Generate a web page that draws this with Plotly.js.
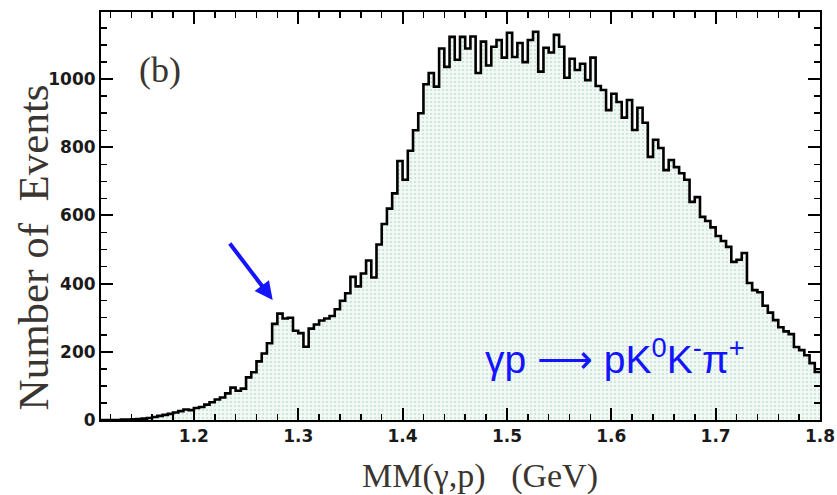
<!DOCTYPE html>
<html>
<head>
<meta charset="utf-8">
<script src="https://cdn.plot.ly/plotly-3.0.1.min.js"></script>
<style>html,body{margin:0;padding:0;background:#fff;}#chart{width:837px;height:495px;}</style>
</head>
<body>
<div id="chart"></div>
<script>
// Histogram of MM(gamma,p): bins of 0.005 GeV starting at 1.110 GeV
const binStart = 1.110;
const binWidth = 0.005;
const counts = [
  0, 0, 0, 0, 1, 1, 2, 3, 4, 6,
  9, 12, 15, 18, 22, 26, 31, 29, 35, 38,
  45, 52, 60, 66, 78, 95, 86, 92, 125, 140,
  172, 195, 225, 282, 312, 298, 300, 262, 255, 215,
  268, 280, 292, 298, 305, 325, 350, 372, 420, 392,
  430, 468, 418, 515, 575, 620, 665, 760, 705, 790,
  850, 900, 985, 1018, 978, 1090, 1036, 1124, 1057, 1124,
  1090, 1125, 1018, 1110, 1040, 1095, 1115, 1063, 1136, 1065,
  1106, 1050, 1115, 1139, 1022, 1092, 1078, 1130, 1095, 1004,
  1060, 1027, 1045, 997, 1063, 980, 968, 909, 957, 933,
  887, 939, 851, 916, 872, 772, 822, 798, 733, 763,
  742, 724, 705, 640, 654, 596, 584, 565, 540, 525,
  508, 464, 470, 490, 402, 381, 375, 335, 315, 293,
  272, 260, 252, 214, 205, 190, 167, 141
];
const xTickVals = [1.2, 1.3, 1.4, 1.5, 1.6, 1.7, 1.8];
const yTickVals = [0, 200, 400, 600, 800, 1000];
const xTitle = "MM(\u03b3,p)\u00a0\u00a0\u00a0(GeV)";
const yTitle = "Number of\u00a0\u00a0Events";
const panelLabel = "(b)";
const reactionLabel = "\u03b3p \u27f6 pK<sup>0</sup>K<sup>-</sup>\u03c0<sup>+</sup>";
const arrowTarget = {x: 1.2755, y: 352};

const edges = counts.map((_, i) => binStart + i * binWidth);
edges.push(binStart + counts.length * binWidth);
const ys = counts.slice();
ys.push(counts[counts.length - 1]);

const trace = {
  type: 'scatter',
  mode: 'lines',
  x: edges,
  y: ys,
  line: {shape: 'hv', color: '#000', width: 2.6},
  fill: 'tozeroy',
  fillcolor: '#eef7f2',
  fillpattern: {shape: '.', fgcolor: '#c2e2d1', bgcolor: '#f2f9f5', size: 4, solidity: 0.2},
  hoverinfo: 'skip'
};

const tickFont = {family: 'DejaVu Sans, Liberation Sans, Arial, sans-serif', size: 17, weight: 'bold', color: '#1a1a1a'};
const serif = 'Liberation Serif, Times New Roman, serif';
const titleColor = '#3a3530';

const layout = {
  width: 837, height: 495,
  margin: {l: 101, r: 17, t: 12, b: 75},
  paper_bgcolor: '#fff', plot_bgcolor: '#fff',
  showlegend: false,
  xaxis: {
    range: [1.111, 1.8],
    tickvals: xTickVals,
    ticktext: xTickVals.map(v => v.toFixed(1)),
    ticks: 'inside', ticklen: 12, tickwidth: 2, tickcolor: '#000',
    minor: {dtick: 0.02, ticks: 'inside', ticklen: 6, tickwidth: 1.5, tickcolor: '#000'},
    showline: true, linecolor: '#000', linewidth: 2, mirror: 'allticks',
    showgrid: false, zeroline: false,
    tickfont: tickFont
  },
  yaxis: {
    range: [0, 1197],
    tickvals: yTickVals,
    ticks: 'inside', ticklen: 12, tickwidth: 2, tickcolor: '#000',
    minor: {dtick: 50, ticks: 'inside', ticklen: 6, tickwidth: 1.5, tickcolor: '#000'},
    showline: true, linecolor: '#000', linewidth: 2, mirror: 'allticks',
    showgrid: false, zeroline: false,
    tickfont: tickFont
  },
  annotations: [
    {xref: 'paper', yref: 'paper', x: 0.527, y: -0.137, xanchor: 'center', yanchor: 'middle',
     text: xTitle, showarrow: false, font: {family: serif, size: 34, color: titleColor}},
    {xref: 'paper', yref: 'paper', x: -0.094, y: 0.424, xanchor: 'center', yanchor: 'middle',
     text: yTitle, textangle: -90, showarrow: false, font: {family: serif, size: 43, color: titleColor}},
    {xref: 'paper', yref: 'paper', x: 0.082, y: 0.858, xanchor: 'center', yanchor: 'middle',
     text: panelLabel, showarrow: false, font: {family: serif, size: 36, color: titleColor}},
    {xref: 'x', yref: 'y', x: 1.604, y: 185, xanchor: 'center', yanchor: 'middle',
     text: reactionLabel, showarrow: false,
     font: {family: 'Liberation Sans, Arial, sans-serif', size: 39, color: '#1414ff'}},
    {xref: 'x', yref: 'y', x: arrowTarget.x, y: arrowTarget.y, text: '', showarrow: true,
     ax: -44, ay: -58, arrowhead: 2, arrowsize: 0.9, arrowwidth: 4, arrowcolor: '#1414ff', standoff: 0}
  ]
};

Plotly.newPlot('chart', [trace], layout, {staticPlot: true, displayModeBar: false});
</script>
</body>
</html>
